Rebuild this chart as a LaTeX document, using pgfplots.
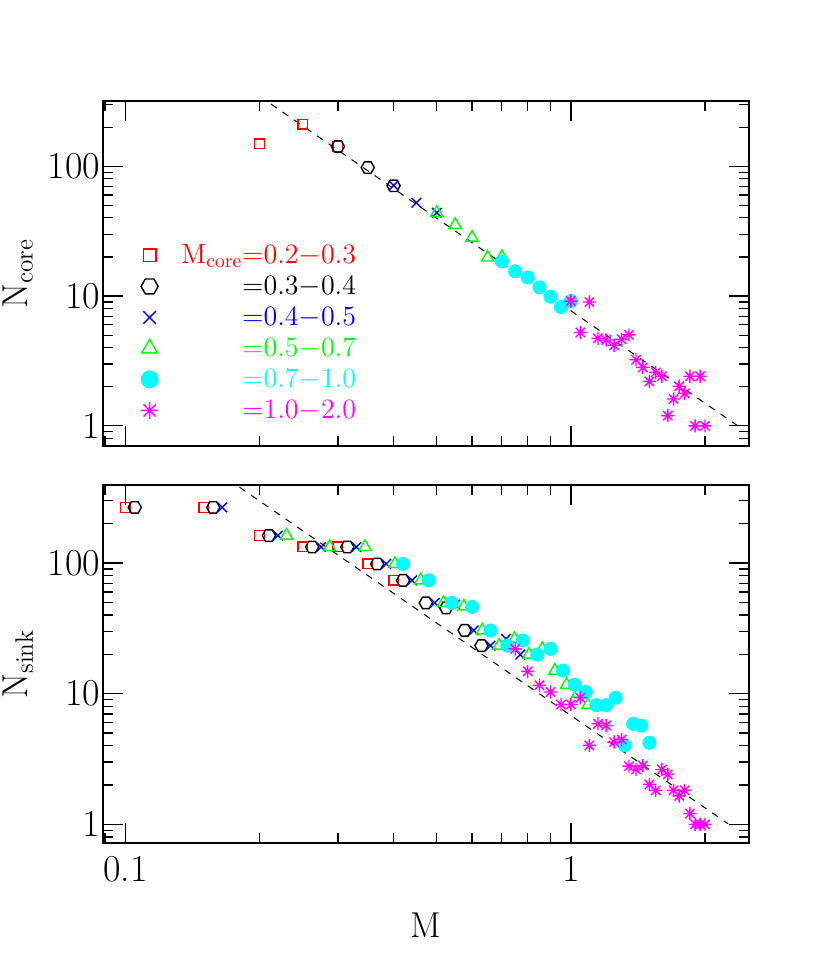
\documentclass[border=0pt]{standalone}
\usepackage{fontspec}
\usepackage{pgfplots}
\pgfplotsset{compat=1.18}

\definecolor{pgred}{rgb}{1,0,0}
\definecolor{pggreen}{rgb}{0,1,0}
\definecolor{pgblue}{rgb}{0,0,1}
\definecolor{pgcyan}{rgb}{0,1,1}
\definecolor{pgmag}{rgb}{1,0,1}

% open hexagon, points left and right
\pgfdeclareplotmark{hexagon}{%
  \pgfpathmoveto{\pgfpointpolar{0}{\pgfplotmarksize}}%
  \pgfpathlineto{\pgfpointpolar{60}{\pgfplotmarksize}}%
  \pgfpathlineto{\pgfpointpolar{120}{\pgfplotmarksize}}%
  \pgfpathlineto{\pgfpointpolar{180}{\pgfplotmarksize}}%
  \pgfpathlineto{\pgfpointpolar{240}{\pgfplotmarksize}}%
  \pgfpathlineto{\pgfpointpolar{300}{\pgfplotmarksize}}%
  \pgfpathclose
  \pgfusepathqstroke
}
% eight-spoke asterisk
\pgfdeclareplotmark{ast8}{%
  \pgfpathmoveto{\pgfpointpolar{0}{\pgfplotmarksize}}\pgfpathlineto{\pgfpointpolar{180}{\pgfplotmarksize}}%
  \pgfpathmoveto{\pgfpointpolar{45}{\pgfplotmarksize}}\pgfpathlineto{\pgfpointpolar{225}{\pgfplotmarksize}}%
  \pgfpathmoveto{\pgfpointpolar{90}{\pgfplotmarksize}}\pgfpathlineto{\pgfpointpolar{270}{\pgfplotmarksize}}%
  \pgfpathmoveto{\pgfpointpolar{135}{\pgfplotmarksize}}\pgfpathlineto{\pgfpointpolar{315}{\pgfplotmarksize}}%
  \pgfusepathqstroke
}

\pgfplotsset{
  mksq/.style={only marks, mark=square, mark size=2.4pt, pgred, line width=0.7pt},
  mkhx/.style={only marks, mark=hexagon, mark size=3.3pt, black, line width=0.7pt},
  mkxx/.style={only marks, mark=x, mark size=3.4pt, pgblue, line width=0.7pt},
  mktr/.style={only marks, mark=triangle, mark size=3.5pt, pggreen, line width=0.7pt},
  mkci/.style={only marks, mark=*, mark size=3.3pt, pgcyan, mark options={fill=pgcyan, draw=pgcyan}},
  mkas/.style={only marks, mark=ast8, mark size=3.3pt, pgmag, line width=0.7pt},
  fitline/.style={black, line width=0.5pt, dash pattern=on 3.5pt off 3.5pt, forget plot},
  shortticks/.style={major tick length=5pt, major tick style={line width=0.6pt, black}},
}
\newcommand{\lgtext}[2]{\fontsize{14}{16}\selectfont\textcolor{#1}{#2}}
\newcommand{\pad}{\phantom{M\textsubscript{core}}}

\begin{document}
\begin{tikzpicture}
\useasboundingbox (-51.5pt,-63pt) rectangle (363.5pt,421.5pt);

% ---- top panel: N_core ----
\begin{axis}[
    xmode=log, ymode=log,
    scale only axis, width=323pt, height=172.5pt,
    at={(0pt,198.5pt)}, anchor=south west,
    xmin=0.0891, xmax=2.51,
    ymin=0.7, ymax=318,
    xtick={0.1,1}, ytick={1,10,100},
    xticklabels={,,},
    extra x ticks={0.09,0.2,0.3,0.4,0.5,0.6,0.7,0.8,0.9,2},
    extra x tick labels={,,,,,,,,,},
    extra x tick style={shortticks},
    extra y ticks={0.8,0.9,2,3,4,5,6,7,8,9,20,30,40,50,60,70,80,90,200,300},
    extra y tick labels={,,,,,,,,,,,,,,,,,,,},
    extra y tick style={shortticks},
    axis line style={line width=0.75pt},
    major tick length=10pt,
    tick style={line width=0.6pt, black},
    tick align=inside,
    log ticks with fixed point,
    /pgf/number format/assume math mode=true,
    tick label style={font=\fontsize{19}{22}\selectfont},
    label style={font=\fontsize{18}{21}\selectfont},
    yticklabel style={xshift=2pt},
    ylabel={N\textsubscript{core}},
    ylabel style={at={(axis description cs:-0.1316,0.5)}, anchor=center},
    legend style={draw=none, fill=none, at={(axis description cs:0.049,0.60)}, anchor=north west,
      font=\fontsize{14}{16}\selectfont,
      nodes={inner ysep=0pt, text height=10pt, text depth=2pt}, row sep=3.5pt,
      /tikz/every odd column/.append style={column sep=9.5pt}},
    legend image post style={every mark/.append style={scale=1.3}},
    legend cell align=left,
]
\addplot[fitline] coordinates {(0.2,347) (2.37,1.0)};

\addplot[mksq] coordinates {(0.2,149) (0.25,210) (0.3,142)};
\addlegendentry{\lgtext{pgred}{M\textsubscript{core}=0.2$-$0.3}}
\addplot[mkhx] coordinates {(0.3,142) (0.35,97.7) (0.4,70.7)};
\addlegendentry{\lgtext{black}{\pad=0.3$-$0.4}}
\addplot[mkxx] coordinates {(0.4,71) (0.45,52.3) (0.5,43.8)};
\addlegendentry{\lgtext{pgblue}{\pad=0.4$-$0.5}}
\addplot[mktr] coordinates {(0.5,43.8) (0.55,35.3) (0.6,28.2) (0.65,19.8) (0.7,20)};
\addlegendentry{\lgtext{pggreen}{\pad=0.5$-$0.7}}
\addplot[mkci] coordinates {(0.7,18.5) (0.75,15.5) (0.8,13.9) (0.85,11.65) (0.9,9.88) (0.95,8.23) (1.0,9.15)};
\addlegendentry{\lgtext{pgcyan}{\pad=0.7$-$1.0}}
\addplot[mkas] coordinates {
  (1.0,9.15) (1.05,5.24) (1.1,9.0) (1.15,4.73) (1.2,4.59) (1.25,4.18) (1.3,4.65)
  (1.35,5.02) (1.4,3.23) (1.45,2.82) (1.5,2.2) (1.55,2.58) (1.6,2.41) (1.65,1.2)
  (1.7,1.61) (1.75,2.02) (1.8,1.78) (1.85,2.41) (1.9,1.0) (1.95,2.41) (2.0,1.0)};
\addlegendentry{\lgtext{pgmag}{\pad=1.0$-$2.0}}
\end{axis}

% ---- bottom panel: N_sink ----
\begin{axis}[
    xmode=log, ymode=log,
    scale only axis, width=323pt, height=179pt,
    at={(0pt,0pt)}, anchor=south west,
    xmin=0.0891, xmax=2.51,
    ymin=0.72, ymax=395,
    xtick={0.1,1}, ytick={1,10,100},
    extra x ticks={0.09,0.2,0.3,0.4,0.5,0.6,0.7,0.8,0.9,2},
    extra x tick labels={,,,,,,,,,},
    extra x tick style={shortticks},
    extra y ticks={0.8,0.9,2,3,4,5,6,7,8,9,20,30,40,50,60,70,80,90,200,300},
    extra y tick labels={,,,,,,,,,,,,,,,,,,,},
    extra y tick style={shortticks},
    axis line style={line width=0.75pt},
    major tick length=10pt,
    tick style={line width=0.6pt, black},
    tick align=inside,
    log ticks with fixed point,
    /pgf/number format/assume math mode=true,
    tick label style={font=\fontsize{19}{22}\selectfont},
    label style={font=\fontsize{18}{21}\selectfont},
    yticklabel style={xshift=2pt},
    xticklabel style={yshift=-3pt},
    xlabel={M},
    xlabel style={at={(axis description cs:0.5,-0.229)}, anchor=center},
    ylabel={N\textsubscript{sink}},
    ylabel style={at={(axis description cs:-0.1316,0.5)}, anchor=center},
]
\addplot[fitline] coordinates {(0.17,437) (2.253,1.01)};

\addplot[mksq] coordinates {(0.1,266) (0.15,266) (0.2,162) (0.25,132.5) (0.3,132.5) (0.35,98.3) (0.4,73.6)};
\addplot[mkhx] coordinates {(0.105,266) (0.1575,266) (0.21,162) (0.2625,132.5) (0.315,132.5)
  (0.3675,98.3) (0.42,73.6) (0.4725,49.5) (0.525,45.3) (0.5775,30.5) (0.63,23.3)};
\addplot[mkxx] coordinates {(0.165,266) (0.22,162) (0.275,132.5) (0.33,132.5) (0.385,98.3)
  (0.44,73.6) (0.495,49.5) (0.55,48) (0.605,30.5) (0.66,23.3) (0.715,26.2) (0.77,19.9)};
\addplot[mktr] coordinates {(0.23,162) (0.2875,132.5) (0.345,132.5) (0.4025,98.3) (0.46,73.6)
  (0.5175,49.5) (0.575,46.5) (0.6325,30.5) (0.69,23.3) (0.7475,26.2) (0.805,19.9)
  (0.8625,22) (0.92,15) (0.9775,11.7) (1.035,10.0) (1.0925,8.2)};
\addplot[mkci] coordinates {(0.42,98.3) (0.48,73.6) (0.54,49.5) (0.6,46.1) (0.66,30.4) (0.72,23.3)
  (0.78,25.5) (0.84,19.9) (0.9,22) (0.96,15) (1.02,11.7) (1.08,10.3) (1.14,8.16) (1.2,8.16)
  (1.26,9.3) (1.32,4.02) (1.38,5.88) (1.44,5.69) (1.5,4.21)};
\addplot[mkas] coordinates {
  (0.75,22) (0.8,14.8) (0.85,11.6) (0.9,10.3) (0.95,8.26) (1.0,8.26) (1.05,9.3) (1.1,4.02)
  (1.15,5.88) (1.2,5.71) (1.25,4.26) (1.3,4.46) (1.35,2.79) (1.4,2.63) (1.45,2.82) (1.5,2.02)
  (1.55,1.82) (1.6,2.63) (1.65,2.41) (1.7,1.82) (1.75,1.65) (1.8,1.82) (1.85,1.21)
  (1.9,1.0) (1.95,1.0) (2.0,1.0)};
\end{axis}
\end{tikzpicture}
\end{document}
